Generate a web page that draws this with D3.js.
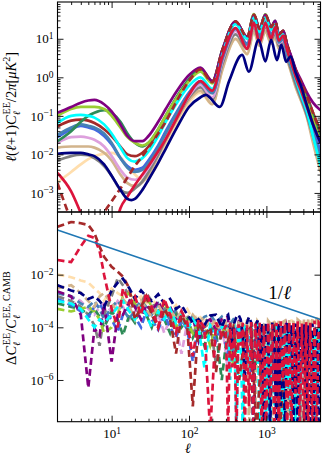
<!DOCTYPE html>
<html>
<head>
<meta charset="utf-8">
<script src="https://cdn.jsdelivr.net/npm/d3@7"></script>
<style>
  body { margin: 0; background: #fff; }
  svg { display: block; }
  text { font-family: "Liberation Serif", "DejaVu Serif", serif; fill: #000; }
</style>
</head>
<body>
<svg width="324" height="458"></svg>
<script>
// multipoles shared by the spectra in the upper panel
var ellTop = [2, 3, 4, 5, 6, 8, 10, 13, 16, 20, 25, 30, 40, 50, 70, 100, 140, 200, 270, 400,
    565, 690, 815, 970, 1150, 1300, 1450, 1650, 1850, 2100, 2400, 2800, 3300, 4000, 5000];
// navy model has its peaks shifted, so it gets its own multipoles
var ellNavy = [2, 3, 4, 5, 6, 8, 10, 13, 16, 18, 20, 25, 30, 40, 50, 70, 100, 140, 165, 250,
    330, 486, 593, 794, 970, 1150, 1370, 1560, 1800, 2050, 2400, 2800, 3300, 4000, 5000];

// l(l+1)C_l^EE/2pi [muK^2]
var eePurple = [0.12, 0.17, 0.22, 0.25, 0.26, 0.2, 0.13, 0.06, 0.03, 0.022, 0.022, 0.03, 0.07, 0.15, 0.45, 1.15, 1.8, 0.8, 5.2, 28,
    11, 42, 18, 42, 20, 29, 13, 16, 7, 3.5, 1.6, 0.85, 0.42, 0.22, 0.14];
var eeYellowgreen = [0.10, 0.15, 0.17, 0.17, 0.17, 0.15, 0.1, 0.05, 0.028, 0.02, 0.017, 0.02, 0.045, 0.1, 0.3, 0.8, 1.4, 0.7, 4.8, 27,
    10, 44, 17, 43, 19, 27, 12, 15, 6, 3, 1.3, 0.6, 0.25, 0.08, 0.02];
var eeCyan = [0.066, 0.1, 0.106, 0.1, 0.09, 0.06, 0.035, 0.015, 0.008, 0.0065, 0.008, 0.012, 0.03, 0.07, 0.22, 0.6, 1.0, 0.5, 4, 24,
    10, 36, 15, 36, 17, 24, 11, 13, 5, 2.2, 0.9, 0.35, 0.14, 0.03, 0.005];
var eeBrown = [0.053, 0.075, 0.08, 0.075, 0.065, 0.045, 0.03, 0.016, 0.01, 0.009, 0.011, 0.016, 0.04, 0.09, 0.3, 0.85, 1.6, 0.75, 5, 28,
    11, 42, 18, 42, 20, 28, 13, 16, 7, 3.2, 1.5, 0.75, 0.35, 0.12, 0.04];
var eeSeagreen = [0.022, 0.04, 0.07, 0.1, 0.12, 0.14, 0.12, 0.07, 0.035, 0.02, 0.016, 0.02, 0.045, 0.1, 0.32, 0.9, 1.7, 0.8, 5.2, 28,
    11, 43, 18, 43, 20, 29, 13, 16, 7, 3.3, 1.5, 0.7, 0.32, 0.1, 0.03];
var eeSteelblue = [0.032, 0.05, 0.06, 0.055, 0.05, 0.035, 0.02, 0.008, 0.0045, 0.0035, 0.004, 0.006, 0.015, 0.035, 0.12, 0.38, 0.75, 0.38, 3, 18,
    7, 27, 11, 27, 12, 18, 8, 10, 4, 1.8, 0.8, 0.32, 0.12, 0.035, 0.008];
var eeRoyalblue = [0.028, 0.045, 0.055, 0.05, 0.045, 0.03, 0.018, 0.008, 0.005, 0.004, 0.0045, 0.007, 0.017, 0.04, 0.13, 0.4, 0.8, 0.4, 3.1, 19,
    7.5, 28, 12, 28, 13, 19, 8.5, 10, 4.2, 1.9, 0.85, 0.35, 0.14, 0.045, 0.012];
var eePlum = [0.02, 0.028, 0.029, 0.027, 0.024, 0.016, 0.009, 0.004, 0.0025, 0.0022, 0.0028, 0.0045, 0.012, 0.03, 0.1, 0.33, 0.65, 0.3, 2.6, 16,
    6.5, 24, 10, 24, 11, 16, 7.5, 9, 3.8, 1.9, 0.9, 0.45, 0.2, 0.08, 0.02];
var eeTan = [0.015, 0.016, 0.016, 0.016, 0.015, 0.011, 0.007, 0.003, 0.0018, 0.0015, 0.0019, 0.003, 0.009, 0.022, 0.08, 0.26, 0.45, 0.2, 1.6, 10,
    4, 15, 6.5, 16, 7.5, 11, 5.5, 7, 3, 1.3, 0.55, 0.25, 0.1, 0.02, 0.0035];
var eeNavajo = [0.0019, 0.0035, 0.0055, 0.0075, 0.009, 0.0105, 0.011, 0.0085, 0.005, 0.003, 0.0022, 0.0025, 0.006, 0.016, 0.06, 0.22, 0.4, 0.2, 1.6, 10,
    4, 16, 7, 16, 7.5, 11, 5.5, 7, 3, 1.3, 0.55, 0.25, 0.1, 0.025, 0.004];
var eeGray = [0.0069, 0.009, 0.0098, 0.0095, 0.008, 0.005, 0.0028, 0.0012, 0.001, 0.0013, 0.002, 0.0035, 0.01, 0.025, 0.09, 0.3, 0.55, 0.27, 2.2, 13,
    5.5, 20, 8.5, 21, 9.5, 14, 6.5, 8, 3.4, 1.5, 0.65, 0.28, 0.11, 0.03, 0.006];
var eeCrimson = [0.0033, 0.0011, 3e-4, 1e-4, 4e-5, 2e-5, 5e-5, 4e-4, 8e-4, 1.6e-3, 3e-3, 5e-3, 0.012, 0.025, 0.09, 0.35, 0.8, 0.45, 3.5, 19,
    5.5, 26, 8, 26, 10, 20, 9, 12, 5, 2.3, 1.0, 0.45, 0.18, 0.06, 0.02];
var eeBrownDash = [0.0018, 2e-4, 6e-5, 3e-5, 5e-5, 3e-4, 6e-4, 1.3e-3, 2.5e-3, 5e-3, 0.009, 0.015, 0.035, 0.07, 0.25, 0.8, 1.6, 0.75, 5, 28,
    11, 42, 18, 42, 20, 28, 13, 16, 7, 3.2, 1.5, 0.75, 0.35, 0.12, 0.04];
var eeNavy = [0.0104, 0.011, 0.011, 0.01, 0.009, 0.0055, 0.0028, 0.0012, 7e-4, 6.5e-4, 7e-4, 0.0012, 0.0022, 0.006, 0.014, 0.05, 0.17, 0.3, 0.35, 0.17,
    0.8, 3.8, 1.4, 9.4, 2.6, 9.4, 2.8, 7, 2.5, 3.5, 1.3, 0.6, 0.2, 0.06, 0.02];

// multipoles for the relative differences in the lower panel
var ellBot = [2, 3, 4, 5, 6, 7, 8, 10, 12, 14, 17, 20, 24, 28, 33, 40, 48, 57, 68, 80, 95, 112,
    133, 158, 188, 223, 265, 315, 375, 445, 530, 630, 750, 890, 1060, 1260, 1500, 1780, 2120, 2520, 3000, 3560, 4230, 5000];
// finer multipoles for the four noisiest models
var ellBotFine = [2, 3, 4, 5, 6, 7, 8, 10, 12, 14, 17, 20, 24, 28, 33, 40, 48, 57, 68, 80, 95, 112,
    133, 158, 188, 223, 265,
    300, 320, 340, 362, 385, 410, 437, 465, 495, 527, 561, 597, 636, 677, 721, 768, 818, 871, 927, 987,
    1051, 1119, 1192, 1269, 1351, 1439, 1532, 1631, 1737, 1850, 1970, 2098, 2234, 2379, 2533, 2697, 2872, 3058, 3256, 3467,
    3692, 3931, 4186, 4457, 4746, 5000];

// |Delta C_l^EE| / C_l^EE,CAMB
var dNavajo = [1e-2, 8e-3, 6e-3, 5e-3, 3e-3, 2e-3, 1e-3, 3e-3, 2e-3, 1.5e-3, 2.5e-3, 1e-3, 1.5e-3, 8e-4, 1.2e-3, 6e-4, 1e-3, 4e-4, 7e-4, 3e-4, 5e-4, 2e-4,
    3e-4, 1.5e-4, 2e-4, 1e-4, 2e-4, 8e-5, 1.5e-4, 6e-5, 1.2e-4, 1e-4, 1.6e-4, 3e-5, 1.2e-4, 1.6e-4, 6e-5, 1.6e-4, 1.8e-4, 1e-4, 1.8e-4, 1.5e-4, 2.2e-4, 2e-4];
var dPlum = [2e-3, 1.5e-3, 1e-3, 5e-4, 3e-4, 6e-4, 8e-4, 4e-4, 1e-3, 6e-4, 2e-4, 4e-4, 8e-4, 3e-4, 1e-4, 3e-4, 6e-5, 2e-4, 1e-4, 1e-5, 1.5e-4, 2e-4,
    5e-5, 1.5e-4, 2e-4, 6e-5, 1.5e-4, 3e-6, 1e-4, 1.5e-4, 4e-5, 1e-4, 1e-4, 2e-5, 1e-4, 6e-5, 1e-6, 8e-5, 1e-4, 3e-5, 1e-4, 6e-5, 1e-4, 1e-7];
var dGray = [1.5e-3, 1e-3, 6e-4, 3e-4, 1.2e-4, 2e-5, 3e-4, 1.5e-3, 7.5e-3, 4e-3, 1.5e-3, 5e-4, 8e-4, 2e-3, 1e-3, 3e-4, 6e-4, 2e-4, 4e-4, 1e-4, 3e-4, 5e-5,
    2e-4, 1e-4, 1.5e-4, 4e-6, 1e-4, 6e-5, 1.2e-4, 2e-5, 1e-4, 6e-5, 1e-4, 1e-6, 8e-5, 5e-5, 1e-4, 1e-8, 7e-5, 4e-5, 9e-5, 2e-6, 6e-5, 1e-4];
var dSeagreen = [8e-4, 6e-4, 5e-4, 3e-4, 5e-4, 2.5e-4, 1e-4, 4e-4, 2e-4, 5e-5, 3e-4, 1.5e-4, 6e-4, 3e-4, 1e-4, 5e-4, 2e-4, 6e-5, 3e-4, 1e-4, 2e-4, 4e-5,
    1.2e-4, 2e-5, 1e-4, 7e-5, 1e-6, 8e-5, 4e-5, 1e-4, 3e-5, 8e-5, 2e-6, 6e-5, 1e-4, 2e-5, 8e-5, 4e-5, 1e-8, 6e-5, 3e-5, 8e-5, 1e-5, 6e-5];
var dYellowgreen = [5e-4, 4e-4, 5e-4, 6e-4, 4e-4, 2e-4, 6e-5, 1e-4, 3e-4, 1.5e-3, 2e-3, 8e-4, 4e-4, 1.5e-3, 6e-4, 3e-4, 8e-4, 4e-4, 1e-4, 3e-4, 1.5e-4, 6e-5,
    2e-4, 1e-4, 2e-5, 1e-4, 6e-5, 1.2e-4, 3e-6, 8e-5, 5e-5, 1e-4, 3e-5, 7e-5, 1e-7, 5e-5, 8e-5, 2e-6, 6e-5, 4e-5, 1e-8, 7e-5, 3e-5, 6e-5];
var dSteelblue = [2e-3, 1.5e-3, 8e-4, 6e-4, 1e-3, 5e-4, 2e-4, 6e-4, 1e-3, 5e-4, 2e-4, 5e-4, 1e-3, 6e-4, 3e-4, 8e-4, 4e-4, 2e-4, 5e-4, 2e-4, 1e-4, 3e-4,
    1.5e-4, 2.5e-4, 3e-4, 1.5e-4, 2.5e-4, 1e-4, 2e-4, 1.5e-4, 5e-5, 1e-4, 3e-5, 8e-5, 1e-4, 2e-5, 8e-5, 1e-8, 6e-5, 1e-4, 3e-5, 6e-5, 1e-6, 5e-5];
var dRoyalblue = [1.2e-3, 7e-4, 4e-4, 2.5e-4, 6e-4, 8e-4, 4e-4, 2e-4, 7e-5, 3e-4, 6e-4, 2.5e-4, 1e-4, 4e-4, 2e-4, 8e-5, 3e-4, 1e-4, 4e-5, 2e-4, 8e-5, 5e-6,
    1.5e-4, 6e-5, 1e-4, 3e-5, 1.5e-4, 1e-5, 6e-5, 1.2e-4, 3e-6, 8e-5, 4e-5, 1e-4, 1e-8, 6e-5, 1e-4, 2e-5, 8e-5, 1e-8, 6e-5, 1e-4, 1e-8, 7e-5];
var dPurple = [2.3e-3, 1.5e-3, 3e-4, 5e-7, 9e-5, 5e-5, 8e-4, 5e-6, 3e-4, 3e-4, 1e-3, 6e-4, 2e-4, 7e-4, 4e-4, 1e-3, 3e-4, 6e-4, 2e-4, 4e-4, 1e-4, 2.5e-4,
    3e-5, 1.5e-4, 2e-4, 8e-5, 2e-4, 2.5e-4, 1e-5, 2e-4, 8e-5, 2e-6, 1e-4, 3e-5, 1.2e-4, 1e-6, 6e-5, 1.5e-4, 2e-5, 8e-5, 1e-8, 1e-4, 4e-5, 8e-5];
var dBrown = [0.66, 1.0, 0.9, 0.77, 0.38, 0.115, 0.048, 0.02, 0.013, 0.0084, 3e-3, 2e-4, 6e-4, 1.5e-3, 3e-4, 1e-4, 5e-4, 2e-4, 1e-5, 3e-4, 1e-4, 1e-7,
    1.5e-4, 5e-5, 1e-4, 2e-6, 8e-5, 3e-5, 1e-4, 1e-6, 6e-5, 1e-4, 1e-8, 8e-5, 4e-5, 1e-4, 1e-8, 6e-5, 1e-4, 2e-5, 8e-5, 1e-8, 6e-5, 1e-4];
// these four use ellBotFine
var dTan = [3e-3, 4e-3, 2e-3, 1e-3, 6e-4, 1.5e-3, 2e-3, 8e-4, 4e-4, 1.2e-3, 6e-4, 2e-4, 1e-3, 5e-4, 2.5e-4, 7e-4, 3e-4, 5e-4, 2e-4, 4e-4, 1.2e-4, 3e-4,
    1.5e-4, 2.5e-4, 1e-4, 2e-4, 5e-5,
    1.5e-4, 1e-4, 2e-5, 1.6e-4, 1.2e-4, 4e-6, 1.5e-4, 2e-4, 1e-5, 1.4e-4,
    1.8e-4, 1e-8, 1.5e-4, 1e-4, 1e-7, 1.7e-4, 1.3e-4, 1e-8, 1.6e-4, 5e-6,
    1.8e-4, 1.4e-4, 1e-8, 1.7e-4, 2e-6, 1.9e-4, 1e-8, 1.6e-4, 1.8e-4, 1e-8,
    2e-4, 1e-7, 1.8e-4, 1e-8, 2e-4, 1.7e-4, 1e-8, 2.2e-4, 1e-8, 2e-4,
    1e-6, 2.3e-4, 1e-8, 2.5e-4, 1.5e-4, 2e-4];
var dCyan = [1e-3, 8e-4, 5e-4, 2e-4, 1e-4, 2e-4, 1.5e-4, 3e-4, 6e-4, 1e-3, 4e-4, 2e-4, 6e-4, 3e-4, 1e-4, 4e-4, 2e-4, 5e-4, 1.5e-4, 3e-4, 8e-5, 2e-4,
    1e-4, 3e-6, 1.2e-4, 6e-5, 1e-4,
    1e-4, 6e-5, 1e-6, 8e-5, 1e-4, 1e-8, 9e-5, 5e-5, 1e-8, 1e-4,
    8e-5, 2e-6, 1.1e-4, 1e-8, 9e-5, 1.2e-4, 1e-8, 1e-4, 3e-5, 1e-8,
    1.1e-4, 1e-8, 9e-5, 1e-7, 1.2e-4, 1e-8, 1e-4, 1e-8, 1.1e-4, 5e-7,
    9e-5, 1e-8, 1e-4, 1e-8, 1.2e-4, 1e-8, 9e-5, 1e-8, 1e-4, 1e-8,
    1.1e-4, 1e-8, 8e-5, 1e-8, 1e-4, 7e-5];
var dNavy = [4e-3, 2.5e-3, 2e-3, 1.2e-3, 1.5e-3, 1e-3, 6e-4, 2.5e-3, 5e-3, 7e-3, 3e-3, 1.2e-3, 2.5e-3, 1.5e-3, 1e-3, 1.8e-3, 8e-4, 1.2e-3, 5e-4, 7e-4, 3e-4, 1.5e-4,
    2e-4, 1.2e-4, 2.8e-4, 3e-4, 1e-4,
    2.5e-4, 3e-4, 1e-4, 2e-5, 1.5e-4, 2.5e-4, 3e-4, 2e-4, 5e-5, 1e-6,
    1.5e-4, 2.5e-4, 1.5e-4, 1e-8, 1.2e-4, 1.8e-4, 5e-6, 1.5e-4, 1e-8, 1.4e-4,
    8e-5, 1e-8, 1.6e-4, 3e-5, 1e-8, 1.5e-4, 1e-7, 1.3e-4, 1e-8, 1.5e-4,
    2e-5, 1.2e-4, 1e-8, 1.4e-4, 1e-8, 1.1e-4, 4e-6, 1.3e-4, 1e-8, 1.2e-4,
    1e-8, 1.4e-4, 1e-8, 1e-4, 1e-8, 1.2e-4];
var dCrimson = [0.036, 0.03, 0.12, 0.3, 0.25, 0.08, 0.01, 5e-4, 1e-4, 3e-3, 8e-4, 1.5e-3, 3e-4, 2e-3, 6e-4, 1e-4, 1.2e-3, 3e-4, 6e-5, 4e-4, 1.5e-4, 8e-6,
    2e-4, 1e-4, 1e-8, 1.5e-4, 5e-5,
    1.2e-4, 1e-8, 1.5e-4, 3e-6, 1e-4, 1e-8, 1.3e-4, 2e-5, 1.5e-4, 1e-8,
    1.2e-4, 1e-7, 1.6e-4, 1e-8, 1.4e-4, 5e-6, 1.5e-4, 1e-8, 1.2e-4, 1e-8,
    1.6e-4, 2e-7, 1.3e-4, 1e-8, 1.5e-4, 1e-8, 1.7e-4, 1e-6, 1.4e-4, 1e-8,
    1.6e-4, 1e-8, 1.5e-4, 3e-7, 1.7e-4, 1e-8, 1.4e-4, 1e-8, 1.6e-4, 1e-8,
    1.5e-4, 1e-8, 1.8e-4, 1e-8, 1.5e-4, 1.2e-4];

// 1/l reference line
var refEll = [2, 5000];
var refVal = [0.5, 0.0002];

var topTicks = [1e-3, 1e-2, 1e-1, 1, 10];
var botTicks = [1e-6, 1e-4, 1e-2];
var xTicks = [10, 100, 1000];

var svg = d3.select('svg');

var x = d3.scaleLog().domain([2, 5000]).range([57.5, 320.5]);
var yTop = d3.scaleLog().domain([3.2e-4, 90]).range([212, 2]);
var yBot = d3.scaleLog().domain([2.6e-8, 2.4]).range([421.7, 212]);

var defs = svg.append('defs');
defs.append('clipPath').attr('id', 'clipTop').append('rect')
    .attr('x', 57.5).attr('y', 2).attr('width', 263).attr('height', 210);
defs.append('clipPath').attr('id', 'clipBot').append('rect')
    .attr('x', 57.5).attr('y', 212).attr('width', 263).attr('height', 209.7);

// ---- upper panel: spectra
var topSeries = [
    { c: '#ffdead', v: eeNavajo },
    { c: '#d2b48c', v: eeTan },
    { c: '#808080', v: eeGray },
    { c: '#dda0dd', v: eePlum },
    { c: '#4169e1', v: eeRoyalblue },
    { c: '#4682b4', v: eeSteelblue },
    { c: '#a52a2a', v: eeBrown },
    { c: '#2e8b57', v: eeSeagreen },
    { c: '#9acd32', v: eeYellowgreen },
    { c: '#800080', v: eePurple },
    { c: '#00ffff', v: eeCyan },
    { c: '#a52a2a', v: eeBrownDash, dash: true },
    { c: '#dc143c', v: eeCrimson },
    { c: '#000080', v: eeNavy, ell: ellNavy }
];

var lineTop = d3.line()
    .x(function(d) { return x(d[0]); })
    .y(function(d) { return yTop(d[1]); })
    .curve(d3.curveMonotoneX);

var gTop = svg.append('g').attr('clip-path', 'url(#clipTop)');
gTop.selectAll('path')
    .data(topSeries)
    .enter().append('path')
    .attr('d', function(s) { return lineTop(d3.zip(s.ell || ellTop, s.v)); })
    .attr('fill', 'none')
    .attr('stroke', function(s) { return s.c; })
    .attr('stroke-width', 2.7)
    .attr('stroke-linejoin', 'round')
    .attr('stroke-dasharray', function(s) { return s.dash ? '7,4' : null; });

// ---- lower panel: relative differences
var botSeries = [
    { c: '#ffdead', v: dNavajo },
    { c: '#dda0dd', v: dPlum },
    { c: '#808080', v: dGray },
    { c: '#2e8b57', v: dSeagreen },
    { c: '#9acd32', v: dYellowgreen },
    { c: '#4682b4', v: dSteelblue },
    { c: '#4169e1', v: dRoyalblue },
    { c: '#800080', v: dPurple },
    { c: '#d2b48c', v: dTan, ell: ellBotFine },
    { c: '#00ffff', v: dCyan, ell: ellBotFine },
    { c: '#a52a2a', v: dBrown },
    { c: '#000080', v: dNavy, ell: ellBotFine },
    { c: '#dc143c', v: dCrimson, ell: ellBotFine }
];

var lineBot = d3.line()
    .x(function(d) { return x(d[0]); })
    .y(function(d) { return yBot(d[1]); });

var gBot = svg.append('g').attr('clip-path', 'url(#clipBot)');
gBot.selectAll('path.diff')
    .data(botSeries)
    .enter().append('path')
    .attr('class', 'diff')
    .attr('d', function(s) { return lineBot(d3.zip(s.ell || ellBot, s.v)); })
    .attr('fill', 'none')
    .attr('stroke', function(s) { return s.c; })
    .attr('stroke-width', 2.7)
    .attr('stroke-dasharray', '7,4');

gBot.append('path')
    .attr('d', lineBot(d3.zip(refEll, refVal)))
    .attr('fill', 'none')
    .attr('stroke', '#1f77b4')
    .attr('stroke-width', 1.6);

svg.append('text')
    .attr('x', x(1060)).attr('y', yBot(1.2e-3))
    .attr('font-size', 19)
    .text('1/')
    .append('tspan').attr('font-style', 'italic').text('\u2113');

// ---- axes, ticks point inwards on all four sides
function minorValues(domain) {
    var out = [];
    for (var e = -9; e <= 4; e++) {
        for (var m = 2; m <= 9; m++) {
            var v = m * Math.pow(10, e);
            if (v > domain[0] && v < domain[1]) out.push(v);
        }
    }
    return out;
}

function sciLabels(sel) {
    sel.selectAll('text').each(function(d) {
        var t = d3.select(this).text(null).attr('font-size', 13);
        var e = Math.round(Math.log10(d));
        t.append('tspan').text('10');
        t.append('tspan').attr('dy', '-0.45em').attr('font-size', 9.5)
            .text(e < 0 ? '\u2212' + (-e) : e);
    });
}

function frame(y, yMajors, yMinors, top, bottom, xLabels) {
    var g = svg.append('g');
    var ax = [
        { a: d3.axisBottom(x), t: bottom },
        { a: d3.axisTop(x), t: top }
    ];
    ax.forEach(function(o) {
        g.append('g').attr('transform', 'translate(0,' + o.t + ')')
            .call(o.a.tickValues(xTicks).tickSize(-6).tickSizeOuter(0).tickFormat(''))
            .call(function(s) { s.select('.domain').remove(); });
        g.append('g').attr('transform', 'translate(0,' + o.t + ')')
            .call(o.a.tickValues(minorValues(x.domain())).tickSize(-3).tickSizeOuter(0).tickFormat(''))
            .call(function(s) { s.select('.domain').remove(); });
    });
    var ay = [
        { a: d3.axisLeft(y), t: 57.5 },
        { a: d3.axisRight(y), t: 320.5 }
    ];
    ay.forEach(function(o, i) {
        var maj = g.append('g').attr('transform', 'translate(' + o.t + ',0)')
            .call(o.a.tickValues(yMajors).tickSize(-6).tickSizeOuter(0).tickPadding(4))
            .call(function(s) { s.select('.domain').remove(); });
        if (i == 0) sciLabels(maj); else maj.selectAll('text').remove();
        if (yMinors) {
            g.append('g').attr('transform', 'translate(' + o.t + ',0)')
                .call(o.a.tickValues(yMinors).tickSize(-3).tickSizeOuter(0).tickFormat(''))
                .call(function(s) { s.select('.domain').remove(); });
        }
    });
    if (xLabels) {
        var lab = g.append('g').attr('transform', 'translate(0,' + bottom + ')')
            .call(d3.axisBottom(x).tickValues(xTicks).tickSize(0).tickPadding(6))
            .call(function(s) { s.select('.domain').remove(); });
        sciLabels(lab);
        lab.selectAll('text').attr('text-anchor', 'middle').attr('dy', '0.8em');
    }
    g.selectAll('.tick line').attr('stroke', '#000').attr('stroke-width', 0.9);
    g.selectAll('text').attr('font-family', '"Liberation Serif", "DejaVu Serif", serif').attr('fill', '#000');
    g.append('rect')
        .attr('x', 57.5).attr('y', top)
        .attr('width', 263).attr('height', bottom - top)
        .attr('fill', 'none').attr('stroke', '#000').attr('stroke-width', 1.1);
}

frame(yTop, topTicks, minorValues(yTop.domain()), 2, 212, false);
frame(yBot, botTicks, null, 212, 421.7, true);

// ---- axis titles (mathtext-like, built from tspans)
function mathText(x0, y0, rot, size, parts) {
    var t = svg.append('text')
        .attr('transform', 'translate(' + x0 + ',' + y0 + ')' + (rot ? ' rotate(-90)' : ''))
        .attr('text-anchor', 'middle')
        .attr('font-size', size);
    var shift = 0;
    parts.forEach(function(p) {
        var target = p.sub ? 0.3 * size : p.sup ? -0.42 * size : 0;
        var sp = t.append('tspan').text(p.t);
        if (target != shift) { sp.attr('dy', target - shift); shift = target; }
        if (p.sub || p.sup) sp.attr('font-size', size * 0.7);
        if (p.i) sp.attr('font-style', 'italic');
        if (p.dx) sp.attr('dx', p.dx);
    });
    return t;
}

mathText(16, 107, true, 14.5, [
    { t: '\u2113', i: true }, { t: '(' }, { t: '\u2113', i: true }, { t: '+1)' }, { t: 'C', i: true },
    { t: '\u2113', sub: true, i: true }, { t: 'EE', sup: true, dx: -3.5 },
    { t: '/2' }, { t: '\u03c0', i: true }, { t: '[' }, { t: '\u03bcK', i: true }, { t: '2', sup: true }, { t: ']' }
]);

mathText(16, 318, true, 14.5, [
    { t: '\u0394' }, { t: 'C', i: true }, { t: '\u2113', sub: true, i: true }, { t: 'EE', sup: true, dx: -3.5 },
    { t: '/' }, { t: 'C', i: true }, { t: '\u2113', sub: true, i: true }, { t: 'EE, CAMB', sup: true, dx: -3.5 }
]);

svg.append('text')
    .attr('x', 188).attr('y', 453)
    .attr('text-anchor', 'middle')
    .attr('font-size', 14)
    .attr('font-style', 'italic')
    .text('\u2113');
</script>
</body>
</html>
